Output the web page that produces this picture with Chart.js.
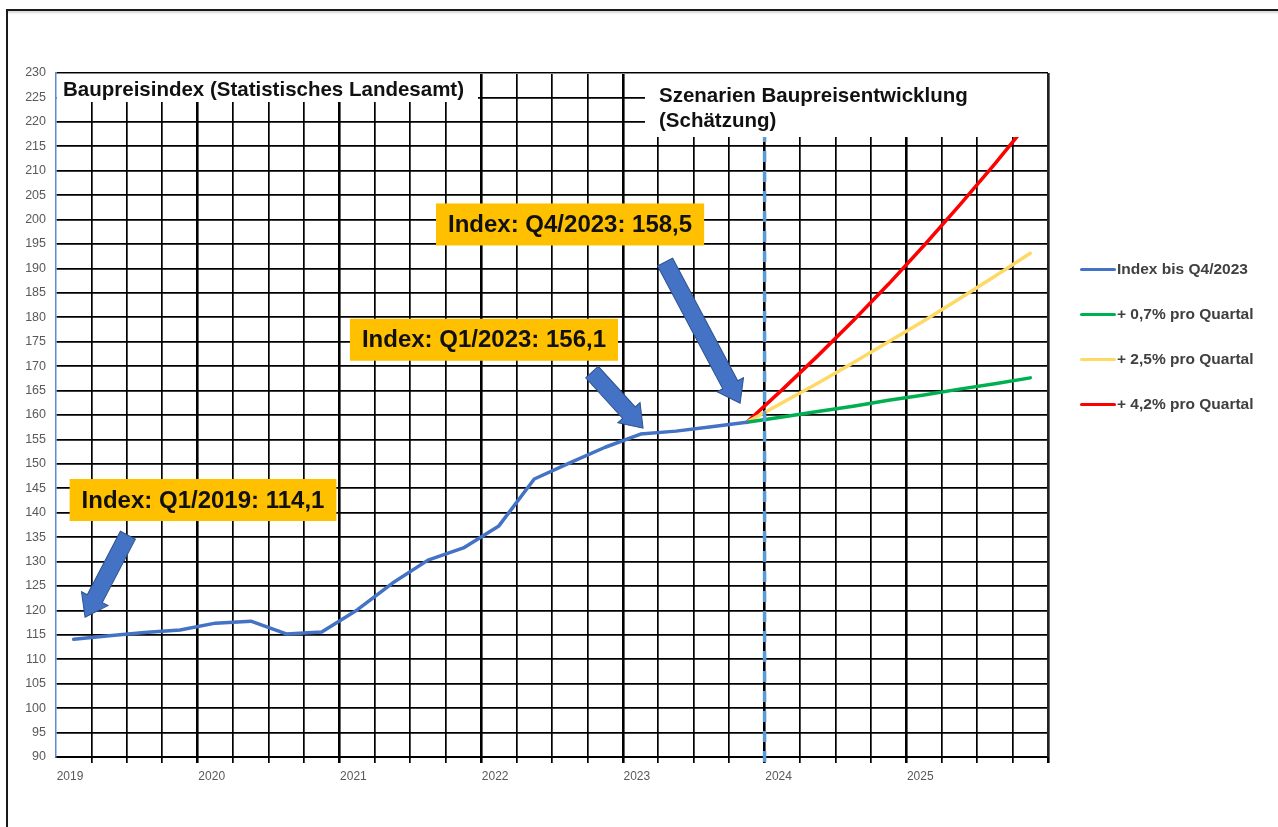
<!DOCTYPE html>
<html lang="de">
<head>
<meta charset="utf-8">
<title>Baupreisindex</title>
<script src="https://cdn.jsdelivr.net/npm/chart.js@4"></script>
<style>
    html, body { margin: 0; padding: 0; background: #fff; overflow: hidden; }
    #wrap   { position: relative; width: 1278px; height: 827px; }
    #frame  { position: absolute; left: 6px; top: 9px; width: 1300px; height: 900px;
              border: 2px solid #1a1a1a; box-shadow: inset 0 3px 2px -1px #d8d8d8; pointer-events: none; }
    #legend { position: absolute; left: 1080px; top: 259px; font: bold 15.5px "Liberation Sans", Arial, sans-serif; color: #404040; }
    .lg-item { display: flex; align-items: center; height: 20px; margin-bottom: 25px; }
    .lg-line { width: 36px; height: 3px; border-radius: 2px; margin-right: 1px; }
</style>
</head>
<body>
<div id="wrap">
    <canvas id="chart" width="1278" height="827"></canvas>
    <div id="frame"></div>
    <div id="legend"></div>
</div>
<script>
'use strict';

// ── Data ─────────────────────────────────────────────────────────────────────

const QUARTERS   = ['Q1/2019','Q2/2019','Q3/2019','Q4/2019','Q1/2020','Q2/2020','Q3/2020','Q4/2020',
                    'Q1/2021','Q2/2021','Q3/2021','Q4/2021','Q1/2022','Q2/2022','Q3/2022','Q4/2022',
                    'Q1/2023','Q2/2023','Q3/2023','Q4/2023'];
const INDEX_VALS = [114.1, 114.8, 115.5, 116.0, 117.4, 117.8, 115.2, 115.6,
                    120.1, 125.6, 130.3, 132.8, 137.3, 146.9, 150.2, 153.4,
                    156.1, 156.7, 157.6, 158.5];

// scenarios start at Q4/2023 and run to Q4/2025
const SCEN_QUARTERS = ['Q4/2023','Q1/2024','Q2/2024','Q3/2024','Q4/2024','Q1/2025','Q2/2025','Q3/2025','Q4/2025'];
const SCEN_LOW   = [158.5, 159.6, 160.7, 161.8, 163.0, 164.1, 165.3, 166.4, 167.6];
const SCEN_MID   = [158.5, 162.5, 166.5, 170.7, 175.0, 179.3, 183.8, 188.4, 193.1];
const SCEN_HIGH  = [158.5, 165.2, 172.1, 179.3, 186.8, 194.7, 202.9, 211.4, 220.3];

const YEAR_LABELS = ['2019','2020','2021','2022','2023','2024','2025'];
const Y_MIN = 90, Y_MAX = 230, Y_STEP = 5;

const TITLE_LEFT  = 'Baupreisindex (Statistisches Landesamt)';
const TITLE_RIGHT = ['Szenarien Baupreisentwicklung', '(Schätzung)'];

// callouts: text, box centre (quarter axis, index axis), arrow tail + tip
const CALLOUTS = [
    { text: 'Index: Q1/2019: 114,1', cx: 4.15,  cy: 142.6, tail: [2.03, 135.4],  tip: [0.82, 118.6] },
    { text: 'Index: Q1/2023: 156,1', cx: 12.08, cy: 175.4, tail: [15.13, 168.8], tip: [16.57, 157.3] },
    { text: 'Index: Q4/2023: 158,5', cx: 14.51, cy: 199.0, tail: [17.19, 191.3], tip: [19.31, 162.4] },
];

const FORECAST_START = 20;   // quarter position of 1.1.2024 (dashed marker)

// ── Helpers ──────────────────────────────────────────────────────────────────

// quarter label -> position on the linear x axis (centre of the quarter)
function qPos(label) {
    const [q, y] = label.slice(1).split('/').map(Number);
    return (y - 2019) * 4 + (q - 1) + 0.5;
}

function toPoints(labels, vals) {
    return vals.map((v, i) => ({ x: qPos(labels[i]), y: v }));
}

function lineSet(label, color, labels, vals) {
    return {
        label, data: toPoints(labels, vals),
        borderColor: color, backgroundColor: color,
        borderWidth: 3.5, pointRadius: 0, tension: 0,
        borderCapStyle: 'round', borderJoinStyle: 'round',
    };
}

// ── Overlay plugin: marker, title boxes, callouts ────────────────────────────

const overlay = {
    id: 'overlay',
    afterDatasetsDraw(chart) {
        const { ctx, chartArea: a, scales: { x, y } } = chart;
        ctx.save();

        // dashed start-of-forecast line
        const xf = x.getPixelForValue(FORECAST_START);
        ctx.strokeStyle = '#5B9BD5';
        ctx.lineWidth = 3.5;
        ctx.setLineDash([11, 9]);
        ctx.beginPath();
        ctx.moveTo(xf, a.bottom + 5);
        ctx.lineTo(xf, a.top + 64);
        ctx.stroke();
        ctx.setLineDash([]);

        // white title boxes over the top of the grid
        ctx.fillStyle = '#fff';
        ctx.fillRect(a.left + 1, a.top, 421, 29);
        ctx.fillRect(a.left + 589, a.top, a.right - a.left - 589, 64);

        ctx.fillStyle = '#111';
        ctx.textBaseline = 'alphabetic';
        ctx.font = 'bold 20.5px "Liberation Sans", Arial, sans-serif';
        ctx.fillText(TITLE_LEFT, a.left + 7, a.top + 23);
        ctx.fillText(TITLE_RIGHT[0], a.left + 603, a.top + 29);
        ctx.fillText(TITLE_RIGHT[1], a.left + 603, a.top + 54);

        // plot outline
        ctx.strokeStyle = '#888';
        ctx.lineWidth = 1;
        ctx.beginPath();
        ctx.moveTo(a.left, a.top + 0.5);
        ctx.lineTo(a.right, a.top + 0.5);
        ctx.stroke();
        ctx.strokeStyle = '#222';
        ctx.lineWidth = 2;
        ctx.beginPath();
        ctx.moveTo(a.right, a.top);
        ctx.lineTo(a.right, a.bottom);
        ctx.stroke();

        // callouts
        ctx.font = 'bold 24px "Liberation Sans", Arial, sans-serif';
        CALLOUTS.forEach(c => {
            const w  = ctx.measureText(c.text).width + 24;
            const h  = 42;
            const cx = x.getPixelForValue(c.cx), cy = y.getPixelForValue(c.cy);
            ctx.fillStyle = '#FFC000';
            ctx.fillRect(cx - w / 2, cy - h / 2, w, h);
            ctx.fillStyle = '#111';
            ctx.textAlign = 'center';
            ctx.textBaseline = 'middle';
            ctx.fillText(c.text, cx, cy + 1);

            drawArrow(ctx,
                x.getPixelForValue(c.tail[0]), y.getPixelForValue(c.tail[1]),
                x.getPixelForValue(c.tip[0]),  y.getPixelForValue(c.tip[1]));
        });
        ctx.restore();
    }
};

function drawArrow(ctx, x0, y0, x1, y1) {
    const ang  = Math.atan2(y1 - y0, x1 - x0);
    const len  = Math.hypot(x1 - x0, y1 - y0);
    const sw   = 8.5, hw = 15, hl = 21;   // half shaft, half head, head length
    ctx.save();
    ctx.translate(x0, y0);
    ctx.rotate(ang);
    ctx.beginPath();
    ctx.moveTo(0, -sw);
    ctx.lineTo(len - hl, -sw);
    ctx.lineTo(len - hl, -hw);
    ctx.lineTo(len, 0);
    ctx.lineTo(len - hl, hw);
    ctx.lineTo(len - hl, sw);
    ctx.lineTo(0, sw);
    ctx.closePath();
    ctx.fillStyle = '#4472C4';
    ctx.fill();
    ctx.strokeStyle = '#2F528F';
    ctx.lineWidth = 1;
    ctx.stroke();
    ctx.restore();
}

// ── Chart ────────────────────────────────────────────────────────────────────

const chart = new Chart(document.getElementById('chart'), {
    type: 'line',
    data: {
        datasets: [
            lineSet('Index bis Q4/2023',  '#4472C4', QUARTERS, INDEX_VALS),
            lineSet('+ 0,7% pro Quartal', '#00B050', SCEN_QUARTERS, SCEN_LOW),
            lineSet('+ 2,5% pro Quartal', '#FFD966', SCEN_QUARTERS, SCEN_MID),
            lineSet('+ 4,2% pro Quartal', '#FF0000', SCEN_QUARTERS, SCEN_HIGH),
        ]
    },
    options: {
        responsive: false,
        animation: false,
        layout: { padding: { left: 0, right: 230, top: 73, bottom: 30 } },
        plugins: { legend: { display: false }, tooltip: { enabled: false } },
        scales: {
            x: {
                type: 'linear', min: 0, max: 28,
                afterFit: s => { s.height = 40; },
                ticks: {
                    stepSize: 1, autoSkip: false, maxRotation: 0, labelOffset: 14, padding: 6,
                    color: '#595959', font: { family: '"Liberation Sans", Arial, sans-serif', size: 12 },
                    callback: v => (v % 4 === 0 ? (YEAR_LABELS[v / 4] ?? '') : ''),
                },
                grid: {
                    color: ctx => (ctx.tick && ctx.tick.value === 0 ? 'rgba(0,0,0,0)' : '#000'),
                    lineWidth: ctx => (ctx.tick && ctx.tick.value % 4 === 0 ? 2.6 : 1.7),
                    tickLength: 6,
                },
                border: { color: '#000', width: 2 },
            },
            y: {
                min: Y_MIN, max: Y_MAX,
                afterFit: s => { s.width = 56; },
                ticks: {
                    stepSize: Y_STEP, padding: 10,
                    color: '#595959', font: { family: '"Liberation Sans", Arial, sans-serif', size: 12.5 },
                },
                grid: { color: '#000', lineWidth: 1.8, drawTicks: false },
                border: { color: '#5B8BD5', width: 1.5 },
            },
        },
    },
    plugins: [overlay],
});

// ── Legend (built from the datasets) ─────────────────────────────────────────

const legend = document.getElementById('legend');
chart.data.datasets.forEach(ds => {
    const item = document.createElement('div');
    item.className = 'lg-item';
    item.innerHTML = `<span class="lg-line" style="background:${ds.borderColor}"></span><span>${ds.label}</span>`;
    legend.appendChild(item);
});
</script>
</body>
</html>
